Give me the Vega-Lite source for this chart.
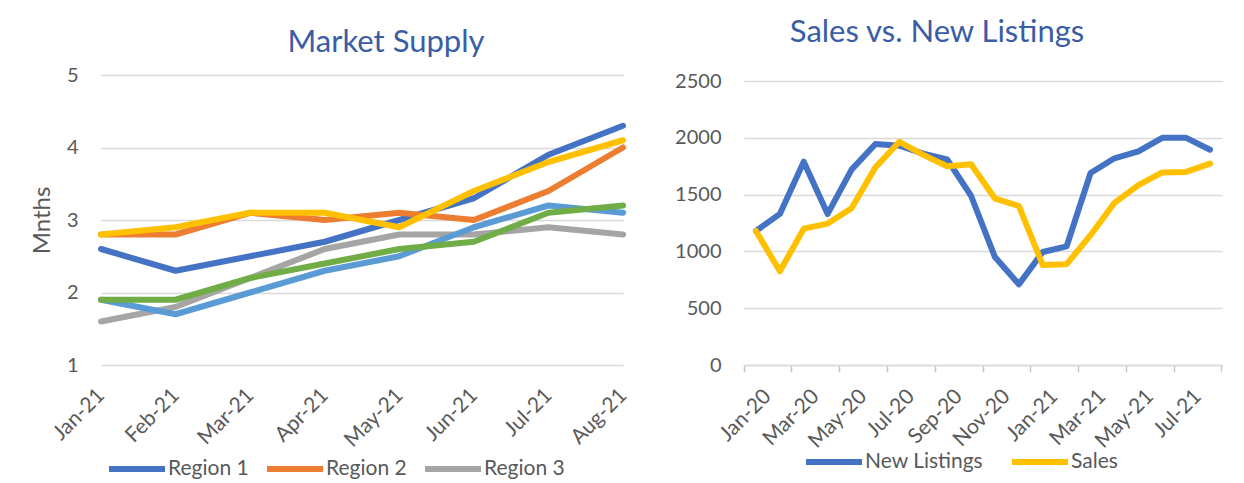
{
  "$schema": "https://vega.github.io/schema/vega-lite/v6.json",
  "background": "white",
  "padding": {"left": 30, "top": 17, "right": 5, "bottom": 0},
  "spacing": 121,
  "bounds": "flush",
  "resolve": {"scale": {"color": "independent"}, "legend": {"color": "independent"}},
  "config": {
    "font": "Lato",
    "view": {"stroke": null},
    "axis": {
      "labelFont": "Lato",
      "labelColor": "#595959",
      "labelFontSize": 20,
      "gridColor": "#D9D9D9",
      "gridWidth": 1.5,
      "domainColor": "#D9D9D9",
      "domainWidth": 1.5,
      "tickColor": "#C8C8C8",
      "tickWidth": 1.5,
      "titleFont": "Lato"
    },
    "legend": {
      "labelFont": "Lato",
      "labelFontSize": 21,
      "labelColor": "#595959",
      "symbolType": "stroke",
      "symbolSize": 3136,
      "symbolStrokeWidth": 6
    },
    "title": {
      "font": "Lato",
      "fontSize": 31,
      "fontWeight": "normal",
      "color": "#3A5DA5",
      "anchor": "middle",
      "frame": "group"
    }
  },
  "hconcat": [
    {
      "width": 522,
      "height": 290,
      "title": {"text": "Market Supply", "dx": 24, "offset": -18, "baseline": "alphabetic"},
      "data": {
        "values": [
          {"month": "Jan-21", "series": "Region 1", "value": 2.6},
          {"month": "Feb-21", "series": "Region 1", "value": 2.3},
          {"month": "Mar-21", "series": "Region 1", "value": 2.5},
          {"month": "Apr-21", "series": "Region 1", "value": 2.7},
          {"month": "May-21", "series": "Region 1", "value": 3.0},
          {"month": "Jun-21", "series": "Region 1", "value": 3.3},
          {"month": "Jul-21", "series": "Region 1", "value": 3.9},
          {"month": "Aug-21", "series": "Region 1", "value": 4.3},
          {"month": "Jan-21", "series": "Region 2", "value": 2.8},
          {"month": "Feb-21", "series": "Region 2", "value": 2.8},
          {"month": "Mar-21", "series": "Region 2", "value": 3.1},
          {"month": "Apr-21", "series": "Region 2", "value": 3.0},
          {"month": "May-21", "series": "Region 2", "value": 3.1},
          {"month": "Jun-21", "series": "Region 2", "value": 3.0},
          {"month": "Jul-21", "series": "Region 2", "value": 3.4},
          {"month": "Aug-21", "series": "Region 2", "value": 4.0},
          {"month": "Jan-21", "series": "Region 3", "value": 1.6},
          {"month": "Feb-21", "series": "Region 3", "value": 1.8},
          {"month": "Mar-21", "series": "Region 3", "value": 2.2},
          {"month": "Apr-21", "series": "Region 3", "value": 2.6},
          {"month": "May-21", "series": "Region 3", "value": 2.8},
          {"month": "Jun-21", "series": "Region 3", "value": 2.8},
          {"month": "Jul-21", "series": "Region 3", "value": 2.9},
          {"month": "Aug-21", "series": "Region 3", "value": 2.8},
          {"month": "Jan-21", "series": "Region 4", "value": 2.8},
          {"month": "Feb-21", "series": "Region 4", "value": 2.9},
          {"month": "Mar-21", "series": "Region 4", "value": 3.1},
          {"month": "Apr-21", "series": "Region 4", "value": 3.1},
          {"month": "May-21", "series": "Region 4", "value": 2.9},
          {"month": "Jun-21", "series": "Region 4", "value": 3.4},
          {"month": "Jul-21", "series": "Region 4", "value": 3.8},
          {"month": "Aug-21", "series": "Region 4", "value": 4.1},
          {"month": "Jan-21", "series": "Region 5", "value": 1.9},
          {"month": "Feb-21", "series": "Region 5", "value": 1.7},
          {"month": "Mar-21", "series": "Region 5", "value": 2.0},
          {"month": "Apr-21", "series": "Region 5", "value": 2.3},
          {"month": "May-21", "series": "Region 5", "value": 2.5},
          {"month": "Jun-21", "series": "Region 5", "value": 2.9},
          {"month": "Jul-21", "series": "Region 5", "value": 3.2},
          {"month": "Aug-21", "series": "Region 5", "value": 3.1},
          {"month": "Jan-21", "series": "Region 6", "value": 1.9},
          {"month": "Feb-21", "series": "Region 6", "value": 1.9},
          {"month": "Mar-21", "series": "Region 6", "value": 2.2},
          {"month": "Apr-21", "series": "Region 6", "value": 2.4},
          {"month": "May-21", "series": "Region 6", "value": 2.6},
          {"month": "Jun-21", "series": "Region 6", "value": 2.7},
          {"month": "Jul-21", "series": "Region 6", "value": 3.1},
          {"month": "Aug-21", "series": "Region 6", "value": 3.2}
        ]
      },
      "mark": {"type": "line", "strokeWidth": 6, "strokeCap": "round", "strokeJoin": "round"},
      "encoding": {
        "x": {
          "field": "month",
          "type": "ordinal",
          "sort": ["Jan-21", "Feb-21", "Mar-21", "Apr-21", "May-21", "Jun-21", "Jul-21", "Aug-21"],
          "scale": {"type": "point", "padding": 0},
          "axis": {
            "title": null,
            "labelAngle": -45,
            "labelAlign": "right",
            "labelBaseline": "middle",
            "labelPadding": 27,
            "labelFontSize": 21,
            "domain": false,
            "ticks": false,
            "grid": false
          }
        },
        "y": {
          "field": "value",
          "type": "quantitative",
          "scale": {"domain": [1, 5], "nice": false, "zero": false},
          "axis": {
            "title": "Mnths",
            "values": [1, 2, 3, 4, 5],
            "domain": false,
            "ticks": false,
            "labelPadding": 23,
            "titlePadding": 12,
            "titleFontSize": 24,
            "titleFontWeight": "normal",
            "titleColor": "#595959"
          }
        },
        "color": {
          "field": "series",
          "type": "nominal",
          "scale": {
            "domain": ["Region 1", "Region 2", "Region 3", "Region 4", "Region 5", "Region 6"],
            "range": ["#4472C4", "#ED7D31", "#A5A5A5", "#FFC000", "#5B9BD5", "#70AD47"]
          },
          "legend": {
            "values": ["Region 1", "Region 2", "Region 3"],
            "title": null,
            "orient": "none",
            "direction": "horizontal",
            "columns": 3,
            "legendX": 5,
            "legendY": 363,
            "columnPadding": 6,
            "labelOffset": 0
          }
        }
      }
    },
    {
      "width": 478,
      "height": 290,
      "title": {"text": "Sales vs. New Listings", "dx": -46, "offset": -2, "baseline": "alphabetic"},
      "data": {
        "values": [
          {"month": "Jan-20", "series": "New Listings", "value": 1180},
          {"month": "Feb-20", "series": "New Listings", "value": 1330},
          {"month": "Mar-20", "series": "New Listings", "value": 1790},
          {"month": "Apr-20", "series": "New Listings", "value": 1330},
          {"month": "May-20", "series": "New Listings", "value": 1720},
          {"month": "Jun-20", "series": "New Listings", "value": 1945},
          {"month": "Jul-20", "series": "New Listings", "value": 1930},
          {"month": "Aug-20", "series": "New Listings", "value": 1860},
          {"month": "Sep-20", "series": "New Listings", "value": 1810},
          {"month": "Oct-20", "series": "New Listings", "value": 1490},
          {"month": "Nov-20", "series": "New Listings", "value": 950},
          {"month": "Dec-20", "series": "New Listings", "value": 710},
          {"month": "Jan-21", "series": "New Listings", "value": 995},
          {"month": "Feb-21", "series": "New Listings", "value": 1045},
          {"month": "Mar-21", "series": "New Listings", "value": 1690},
          {"month": "Apr-21", "series": "New Listings", "value": 1820},
          {"month": "May-21", "series": "New Listings", "value": 1880},
          {"month": "Jun-21", "series": "New Listings", "value": 2000},
          {"month": "Jul-21", "series": "New Listings", "value": 2000},
          {"month": "Aug-21", "series": "New Listings", "value": 1895},
          {"month": "Jan-20", "series": "Sales", "value": 1180},
          {"month": "Feb-20", "series": "Sales", "value": 825},
          {"month": "Mar-20", "series": "Sales", "value": 1200},
          {"month": "Apr-20", "series": "Sales", "value": 1245},
          {"month": "May-20", "series": "Sales", "value": 1380},
          {"month": "Jun-20", "series": "Sales", "value": 1740},
          {"month": "Jul-20", "series": "Sales", "value": 1965},
          {"month": "Aug-20", "series": "Sales", "value": 1850},
          {"month": "Sep-20", "series": "Sales", "value": 1750},
          {"month": "Oct-20", "series": "Sales", "value": 1767},
          {"month": "Nov-20", "series": "Sales", "value": 1465},
          {"month": "Dec-20", "series": "Sales", "value": 1400},
          {"month": "Jan-21", "series": "Sales", "value": 880},
          {"month": "Feb-21", "series": "Sales", "value": 888},
          {"month": "Mar-21", "series": "Sales", "value": 1143},
          {"month": "Apr-21", "series": "Sales", "value": 1428},
          {"month": "May-21", "series": "Sales", "value": 1583},
          {"month": "Jun-21", "series": "Sales", "value": 1695},
          {"month": "Jul-21", "series": "Sales", "value": 1700},
          {"month": "Aug-21", "series": "Sales", "value": 1773}
        ]
      },
      "layer": [
        {
          "transform": [{"filter": "datum.series === 'New Listings'"}],
          "mark": {"type": "line", "strokeWidth": 6, "strokeCap": "round", "strokeJoin": "round"},
          "encoding": {
            "x": {
              "field": "month",
              "type": "ordinal",
              "sort": ["Jan-20", "Feb-20", "Mar-20", "Apr-20", "May-20", "Jun-20", "Jul-20", "Aug-20", "Sep-20", "Oct-20", "Nov-20", "Dec-20", "Jan-21", "Feb-21", "Mar-21", "Apr-21", "May-21", "Jun-21", "Jul-21", "Aug-21"],
              "scale": {"type": "band", "paddingInner": 0, "paddingOuter": 0},
              "bandPosition": 0.5,
              "axis": {
                "orient": "bottom",
                "title": null,
                "values": ["Jan-20", "Mar-20", "May-20", "Jul-20", "Sep-20", "Nov-20", "Jan-21", "Mar-21", "May-21", "Jul-21"],
                "bandPosition": 0,
                "labelOffset": 12,
                "labelAngle": -45,
                "labelAlign": "right",
                "labelBaseline": "middle",
                "labelPadding": 21,
                "labelFontSize": 21,
                "tickSize": 7,
                "grid": false,
                "domain": true
              }
            },
            "y": {
              "field": "value",
              "type": "quantitative",
              "scale": {"domain": [0, 2553], "nice": false, "zero": true},
              "axis": {
                "title": null,
                "values": [0, 500, 1000, 1500, 2000, 2500],
                "format": "d",
                "domain": false,
                "ticks": false,
                "labelPadding": 23
              }
            },
            "color": {
              "field": "series",
              "type": "nominal",
              "scale": {"domain": ["New Listings", "Sales"], "range": ["#4472C4", "#FFC000"]},
              "legend": {
                "title": null,
                "orient": "none",
                "direction": "horizontal",
                "columns": 2,
                "legendX": 59,
                "legendY": 356,
                "columnPadding": 16,
                "labelOffset": 0
              }
            }
          }
        },
        {
          "transform": [{"filter": "datum.series === 'Sales'"}],
          "mark": {"type": "line", "strokeWidth": 6, "strokeCap": "round", "strokeJoin": "round"},
          "encoding": {
            "x": {
              "field": "month",
              "type": "ordinal",
              "sort": ["Jan-20", "Feb-20", "Mar-20", "Apr-20", "May-20", "Jun-20", "Jul-20", "Aug-20", "Sep-20", "Oct-20", "Nov-20", "Dec-20", "Jan-21", "Feb-21", "Mar-21", "Apr-21", "May-21", "Jun-21", "Jul-21", "Aug-21"],
              "scale": {"type": "band", "paddingInner": 0, "paddingOuter": 0},
              "bandPosition": 0.5,
              "axis": {
                "orient": "bottom",
                "title": null,
                "values": ["Aug-21"],
                "bandPosition": 1,
                "labels": false,
                "tickSize": 7,
                "grid": false,
                "domain": false
              }
            },
            "y": {
              "field": "value",
              "type": "quantitative"
            },
            "color": {
              "field": "series",
              "type": "nominal"
            }
          }
        }
      ],
      "resolve": {"axis": {"x": "independent"}}
    }
  ]
}
